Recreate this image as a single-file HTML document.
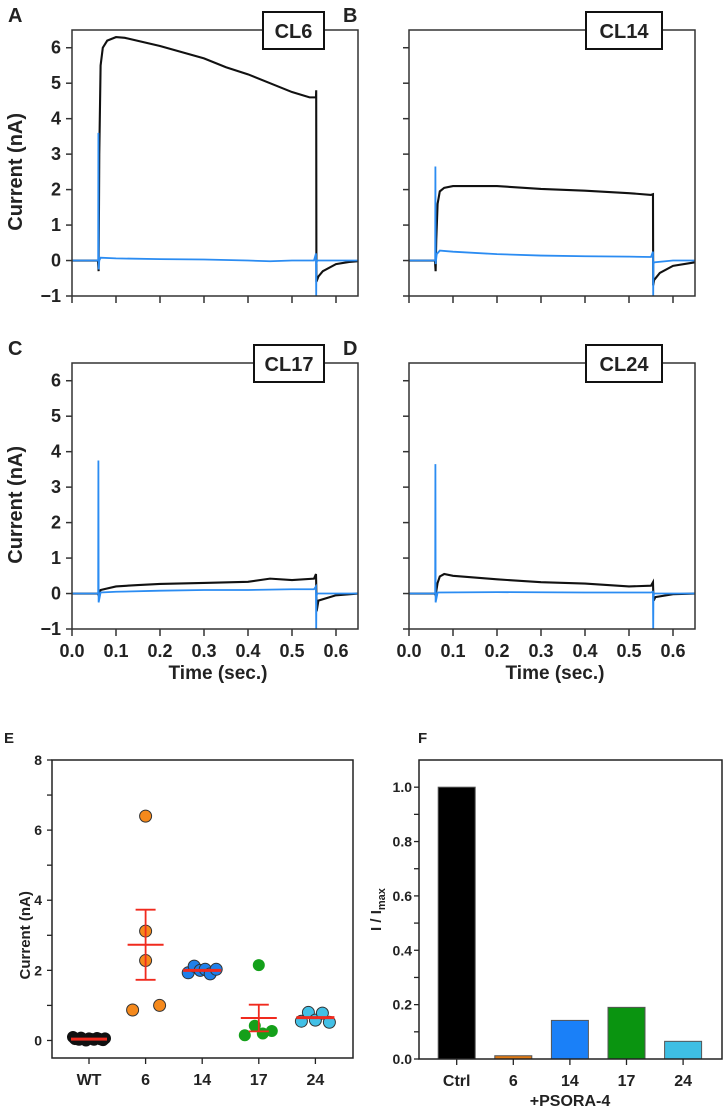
<!DOCTYPE html>
<html><head><meta charset="utf-8">
<style>
html,body{margin:0;padding:0;background:#fff;}
svg{display:block;font-family:"Liberation Sans",Arial,sans-serif;}
text{font-weight:bold;fill:#222;}
</style></head>
<body>
<svg id="fig" width="724" height="1109" viewBox="0 0 724 1109" xmlns="http://www.w3.org/2000/svg"></svg>
<script>
// ---- Trace data (time in s, current in nA) ----
const traceAT = [0,0.059,0.0605,0.062,0.065,0.07,0.08,0.1,0.12,0.2,0.3,0.35,0.4,0.45,0.5,0.54,0.5545,0.555,0.5555,0.56,0.57,0.6,0.63,0.65];
const traceAB = [0,0,-0.3,3.0,5.5,6.0,6.2,6.3,6.28,6.05,5.7,5.45,5.25,5.0,4.75,4.6,4.6,4.8,-0.6,-0.45,-0.3,-0.1,-0.04,-0.02];
const traceAbT = [0,0.0595,0.06,0.0605,0.062,0.065,0.1,0.2,0.3,0.4,0.45,0.5,0.55,0.5545,0.555,0.5555,0.557,0.65];
const traceAbV = [0,0,3.6,-0.25,0.0,0.08,0.06,0.04,0.03,0.0,-0.02,0.0,0.0,0.2,-1.0,-0.1,0.0,0.0];

const traceBT = [0,0.059,0.0605,0.062,0.065,0.07,0.08,0.1,0.2,0.3,0.4,0.5,0.55,0.5545,0.555,0.557,0.57,0.6,0.65];
const traceBB = [0,0,-0.3,0.6,1.6,1.95,2.05,2.1,2.1,2.02,1.97,1.9,1.85,1.87,-0.7,-0.55,-0.35,-0.15,-0.05];
const traceBbT = [0,0.0595,0.06,0.0605,0.063,0.07,0.1,0.2,0.3,0.4,0.5,0.55,0.5545,0.555,0.5555,0.557,0.6,0.65];
const traceBbV = [0,0,2.65,-0.1,0.18,0.28,0.25,0.18,0.14,0.12,0.11,0.1,0.25,-1.0,-0.1,-0.05,0.0,0.0];

const traceCT = [0,0.059,0.0605,0.065,0.1,0.15,0.2,0.3,0.4,0.45,0.5,0.55,0.5545,0.555,0.556,0.56,0.6,0.65];
const traceCB = [0,0,-0.05,0.1,0.2,0.24,0.27,0.3,0.33,0.42,0.38,0.42,0.55,0.3,-0.5,-0.2,-0.05,0];
const traceCbT = [0,0.0595,0.06,0.0605,0.065,0.1,0.2,0.3,0.4,0.5,0.55,0.5545,0.555,0.5555,0.557,0.65];
const traceCbV = [0,0,3.75,-0.25,0.03,0.05,0.08,0.1,0.1,0.12,0.12,0.2,-1.0,-0.1,0.0,0.0];

const traceDT = [0,0.059,0.0605,0.065,0.07,0.08,0.1,0.2,0.3,0.4,0.5,0.55,0.5545,0.555,0.556,0.56,0.6,0.65];
const traceDB = [0,0,-0.05,0.3,0.48,0.55,0.5,0.4,0.32,0.28,0.2,0.22,0.32,0.1,-0.2,-0.1,-0.02,0];
const traceDbT = [0,0.0595,0.06,0.0605,0.065,0.2,0.4,0.55,0.5545,0.555,0.5555,0.557,0.65];
const traceDbV = [0,0,3.65,-0.25,0.03,0.04,0.03,0.03,0.05,-1.0,-0.1,0.0,0.0];

const traceYTicks = [-1,0,1,2,3,4,5,6];
const traceXTicks = ["0.0","0.1","0.2","0.3","0.4","0.5","0.6"];

// ---- Panel E data ----
const eCategories = ["WT","6","14","17","24"];
const eWT = [0.1,0.05,0.02,0.08,0.03,0.0,0.06,0.04,0.02,0.07,0.05,0.03,0.01,0.06,0.04];
const eCL6 = [6.4,3.12,2.28,0.87,1.0];
const eCL14 = [1.93,2.12,2.0,2.03,1.9,2.03];
const eCL17 = [2.15,0.15,0.42,0.2,0.27];
const eCL24 = [0.55,0.8,0.58,0.78,0.52];
const eMeans = [0.04,2.73,2.0,0.64,0.65];
const eSem = [0.01,1.0,0.03,0.38,0.05];
const eYTicks = [0,2,4,6,8];

// ---- Panel F data ----
const fCategories = ["Ctrl","6","14","17","24"];
const fValues = [1.0,0.012,0.142,0.19,0.065];
const fYTicks = ["0.0","0.2","0.4","0.6","0.8","1.0"];

const NS="http://www.w3.org/2000/svg";
const svg=document.getElementById('fig');
function el(tag,attrs,parent){const e=document.createElementNS(NS,tag);for(const k in attrs)e.setAttribute(k,attrs[k]);(parent||svg).appendChild(e);return e;}
function txt(s,attrs,parent){const e=el('text',attrs,parent);e.textContent=s;return e;}

function tracePanel(ox,oy,letter,label,boxX,boxW,showY,bT,bV,blT,blV,name){
  const g=el('g',{});
  
  
  const L=ox,R=ox+286,T=oy,B=oy+266;
  const x=t=>L+(t/0.65)*(R-L);
  const y=v=>B-(v+1)/7.5*(B-T);
  const pb=el('polyline',{points:bT.map((t,i)=>x(t)+','+y(bV[i])).join(' '),fill:'none',stroke:'#111','stroke-width':2.1},g);
  
  
  const pl=el('polyline',{points:blT.map((t,i)=>x(t)+','+y(blV[i])).join(' '),fill:'none',stroke:'#2b8cf2','stroke-width':1.8},g);
  
  
  el('path',{d:`M${L},${B} L${L},${T} L${R},${T} L${R},${B} L${L},${B}`,fill:'none',stroke:'#333','stroke-width':1.5},g);
  traceYTicks.forEach(v=>{
    el('line',{x1:L-6,x2:L,y1:y(v),y2:y(v),stroke:'#333','stroke-width':1.5},g);
    if(showY){const t=txt(v<0?'\u2212'+(-v):String(v),{x:L-11,y:y(v)+6,'font-size':18,'text-anchor':'end'},g);
      }
  });
  traceXTicks.forEach((s,i)=>{
    const xx=x(i*0.1);
    el('line',{x1:xx,x2:xx,y1:B,y2:B+7,stroke:'#333','stroke-width':1.5},g);
    if(oy>200){const t=txt(s,{x:xx,y:B+28,'font-size':18,'text-anchor':'middle'},g);
      }
  });
  if(oy>200){const t=txt('Time (sec.)',{x:(L+R)/2+3,y:B+50,'font-size':19,'text-anchor':'middle'},g);
    }
  if(showY){const t=txt('Current (nA)',{x:0,y:0,'font-size':20,'text-anchor':'middle',transform:`translate(22,${y(2.5)}) rotate(-90)`},g);
    }
  const pl2=txt(letter,{x:ox-64+(showY?0:-2),y:oy-8,'font-size':20},g);
  
  const bx=el('rect',{x:boxX,y:oy-18,width:boxW,height:37,fill:'#fff',stroke:'#111','stroke-width':2},g);
  
  const bt=txt(label,{x:boxX+boxW/2,y:oy+8,'font-size':20,'text-anchor':'middle',fill:'#111'},g);
  
}
tracePanel(72,30,'A','CL6',263,61,true,traceAT,traceAB,traceAbT,traceAbV,'panel-a-cl6');
tracePanel(409,30,'B','CL14',586,76,false,traceBT,traceBB,traceBbT,traceBbV,'panel-b-cl14');
tracePanel(72,363,'C','CL17',254,70,true,traceCT,traceCB,traceCbT,traceCbV,'panel-c-cl17');
tracePanel(409,363,'D','CL24',586,76,false,traceDT,traceDB,traceDbT,traceDbV,'panel-d-cl24');

// ---- Panel E ----
(function(){
  const g=el('g',{});
  
  
  const L=52,R=353,T=760,B=1058;
  const y=v=>B-(v+0.5)/8.5*(B-T);
  const cx=i=>89+i*56.6;
  el('path',{d:`M${L},${B} L${L},${T} L${R},${T} L${R},${B} Z`,fill:'none',stroke:'#222','stroke-width':1.5},g);
  for(let v=0;v<=8;v++){el('line',{x1:L-5,x2:L,y1:y(v),y2:y(v),stroke:'#222','stroke-width':1.3},g);}
  eYTicks.forEach(v=>{const t=txt(String(v),{x:L-10,y:y(v)+5,'font-size':14,'text-anchor':'end'},g);
    });
  eCategories.forEach((c,i)=>{
    el('line',{x1:cx(i),x2:cx(i),y1:B,y2:B+6,stroke:'#222','stroke-width':1.3},g);
    const t=txt(c,{x:cx(i),y:B+27,'font-size':16,'text-anchor':'middle'},g);
    
  });
  const tt=txt('Current (nA)',{x:0,y:0,'font-size':15,'text-anchor':'middle',transform:`translate(30,${y(3)}) rotate(-90)`},g);
  
  const lt=txt('E',{x:4,y:743,'font-size':15},g);
  
  const groups=[[eWT,'#111','#111',5.5],[eCL6,'#f5891c','#333',6],[eCL14,'#1f80ea','#333',6],[eCL17,'#14a01a','none',6],[eCL24,'#42c0e6','#333',6]];
  const jit=[[-16,-13,-10,-8,-5,-3,0,3,5,8,10,12,14,16,-14],[0,0,0,-13,14],[-14,-8,-2,3,8,14],[0,-14,-4,4,13],[-14,-7,0,7,14]];
  groups.forEach((gr,i)=>{
    gr[0].forEach((v,j)=>{
      const c=el('circle',{cx:cx(i)+jit[i][j],cy:y(v),r:gr[3],fill:gr[1],stroke:gr[2],'stroke-width':1},g);
      
      
    });
  });
  eMeans.forEach((m,i)=>{
    const hw=i===2||i===4?19:18;
    const ml=el('line',{x1:cx(i)-hw,x2:cx(i)+hw,y1:y(m),y2:y(m),stroke:'#f02a1e','stroke-width':i===0||i===2||i===4?3:2},g);
    
    if(eSem[i]>0.2){
      const eb=el('path',{d:`M${cx(i)},${y(m-eSem[i])} L${cx(i)},${y(m+eSem[i])} M${cx(i)-10},${y(m+eSem[i])} L${cx(i)+10},${y(m+eSem[i])} M${cx(i)-10},${y(m-eSem[i])} L${cx(i)+10},${y(m-eSem[i])}`,stroke:'#f02a1e','stroke-width':1.8,fill:'none'},g);
      
    }
  });
})();

// ---- Panel F ----
(function(){
  const g=el('g',{});
  
  
  const L=419,R=722,T=760,B=1059;
  const y=v=>B-v/1.1*(B-T);
  const cx=i=>456.7+i*56.6;
  const colors=['#000','#e07a14','#1a80f8','#0a9410','#3ebfe4'];
  fValues.forEach((v,i)=>{
    const r=el('rect',{x:cx(i)-18.5,y:y(v),width:37,height:B-y(v),fill:colors[i],stroke:'#555','stroke-width':1},g);
    
    
  });
  el('path',{d:`M${L},${B} L${L},${T} L${R},${T} L${R},${B} Z`,fill:'none',stroke:'#222','stroke-width':1.5},g);
  for(let k=0;k<=10;k++){const v=k*0.1;el('line',{x1:L-5,x2:L,y1:y(v),y2:y(v),stroke:'#222','stroke-width':1.3},g);}
  fYTicks.forEach(s=>{const t=txt(s,{x:L-7,y:y(parseFloat(s))+5,'font-size':14,'text-anchor':'end'},g);
    });
  fCategories.forEach((c,i)=>{
    el('line',{x1:cx(i),x2:cx(i),y1:B,y2:B+6,stroke:'#222','stroke-width':1.3},g);
    const t=txt(c,{x:cx(i),y:B+27,'font-size':16,'text-anchor':'middle'},g);
    
  });
  const xt=txt('+PSORA-4',{x:570,y:1106,'font-size':16,'text-anchor':'middle'},g);
  
  const yt=el('text',{'font-size':15,'text-anchor':'middle',transform:`translate(381,${y(0.55)}) rotate(-90)`},g);
  yt.innerHTML='I / I<tspan font-size="11" dy="4">max</tspan>';
  
  const lt=txt('F',{x:418,y:743,'font-size':15},g);
  
})();
</script>
</body></html>
